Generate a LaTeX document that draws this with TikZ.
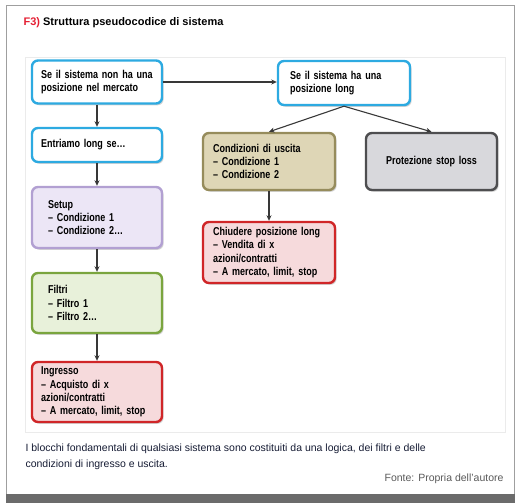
\documentclass[tikz,border=0pt]{standalone}
\usepackage{fontspec}
\setmainfont{Liberation Sans}
\newfontfamily\boxfont{Liberation Sans}[FakeStretch=0.79]
\usetikzlibrary{arrows.meta,shadows}

\definecolor{titred}{RGB}{228,32,52}
\definecolor{captxt}{RGB}{22,28,52}
\definecolor{bluebd}{RGB}{45,170,225}
\definecolor{lilabd}{RGB}{178,160,210}
\definecolor{lilafl}{RGB}{236,230,246}
\definecolor{greenbd}{RGB}{122,165,62}
\definecolor{greenfl}{RGB}{232,241,218}
\definecolor{redbd}{RGB}{208,38,40}
\definecolor{redfl}{RGB}{246,218,220}
\definecolor{tanbd}{RGB}{150,140,92}
\definecolor{tanfl}{RGB}{222,214,182}
\definecolor{graybd}{RGB}{78,78,80}
\definecolor{grayfl}{RGB}{216,216,220}

\tikzset{
  blk/.style={rounded corners=6pt, line width=2.4pt, align=left,
    font=\boxfont\bfseries\fontsize{11.4}{13.2}\selectfont,
    inner xsep=9pt, inner ysep=0pt, minimum width=#1,
    drop shadow={shadow xshift=1.6pt, shadow yshift=-1.8pt, opacity=0.35}},
  blk/.default=130pt,
  arr/.style={-{Stealth[length=5.5pt,width=5pt]}, line width=1.1pt, draw=black!78},
}

\begin{document}
\begin{tikzpicture}[x=1pt,y=-1pt]
  \useasboundingbox (0,0) rectangle (522,503);
  % frame
  \draw[gray!75,line width=1pt] (6.5,5.5) rectangle (514.5,496);
  \fill[black!58] (6,494) rectangle (515,503);
  \draw[black!8,line width=0.8pt] (25,57) rectangle (505,432);
  \node[anchor=base west,font=\bfseries\fontsize{11}{13}\selectfont] (title) at (20,26)
    {\textcolor{titred}{F3)} Struttura pseudocodice di sistema};

  % left column
  \node[blk,draw=bluebd,fill=white,text width=112pt,minimum height=43pt] (nopos) at (97,82)
    {Se il sistema non ha una\\posizione nel mercato};
  \node[blk,draw=bluebd,fill=white,text width=112pt,minimum height=34pt] (entry) at (97,145)
    {Entriamo long se…};
  \node[blk,draw=lilabd,fill=lilafl,inner xsep=16pt,text width=98pt,minimum height=61pt] (setup) at (97,217.5)
    {Setup\\– Condizione 1\\– Condizione 2…};
  \node[blk,draw=greenbd,fill=greenfl,inner xsep=16pt,text width=98pt,minimum height=60pt] (filter) at (97,303)
    {Filtri\\– Filtro 1\\– Filtro 2…};
  \node[blk,draw=redbd,fill=redfl,text width=112pt,minimum height=60pt] (ingr) at (97,392)
    {Ingresso\\– Acquisto di x\\azioni/contratti\\– A mercato, limit, stop};

  % right part
  \node[blk,draw=bluebd,fill=white,inner xsep=12pt,text width=108pt,minimum height=44pt] (longpos) at (344,83)
    {Se il sistema ha una\\posizione long};
  \node[blk,draw=tanbd,fill=tanfl,inner xsep=10pt,text width=112pt,minimum height=57pt] (exitc) at (269,161.5)
    {Condizioni di uscita\\– Condizione 1\\– Condizione 2};
  \node[blk,draw=graybd,fill=grayfl,align=center,inner xsep=10pt,text width=111pt,minimum height=57pt] (stop) at (431.5,161.5)
    {Protezione stop loss};
  \node[blk,draw=redbd,fill=redfl,inner xsep=10pt,text width=112pt,minimum height=61pt] (close) at (269,252.5)
    {Chiudere posizione long\\– Vendita di x\\azioni/contratti\\– A mercato, limit, stop};

  % connectors
  \draw[arr] (nopos) -- (entry);
  \draw[arr] (entry) -- (setup);
  \draw[arr] (setup) -- (filter);
  \draw[arr] (filter) -- (ingr);
  \draw[arr] (nopos.east) -- (nopos.east -| longpos.west);
  \draw[arr] (longpos.south) -- (exitc.north);
  \draw[arr] (longpos.south) -- (stop.north);
  \draw[arr] (exitc) -- (close);

  % caption
  \node[anchor=base west,align=left,text=captxt,font=\fontsize{10.5}{16}\selectfont] (capt) at (22,467)
    {I blocchi fondamentali di qualsiasi sistema sono costituiti da una logica, dei filtri e delle\\condizioni di ingresso e uscita.};
  \node[anchor=base east,text=black!65,font=\fontsize{10.5}{13}\selectfont] (source) at (507,481)
    {Fonte: Propria dell’autore};
\end{tikzpicture}
\end{document}
